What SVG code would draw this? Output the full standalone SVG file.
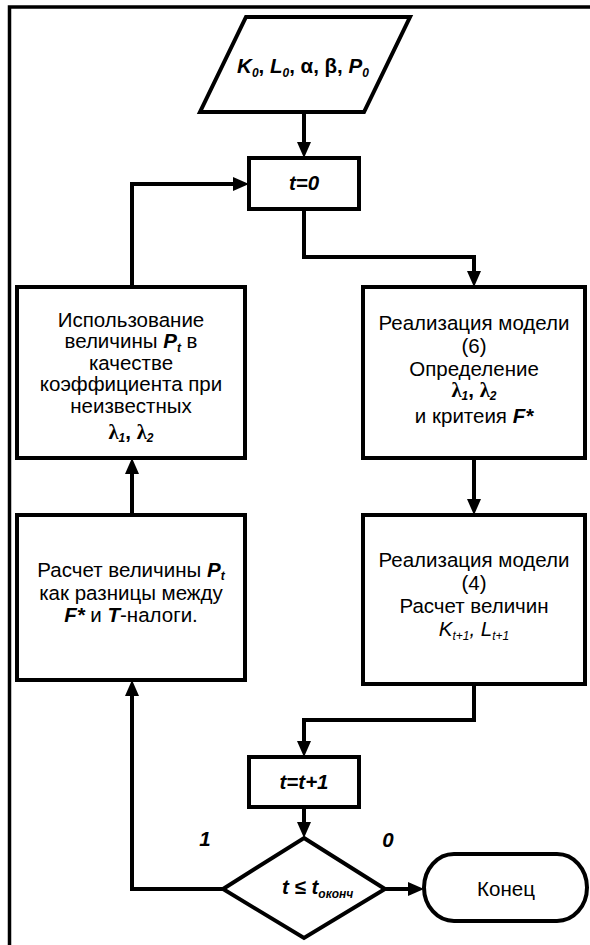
<svg xmlns="http://www.w3.org/2000/svg" width="590" height="945" viewBox="0 0 590 945">
<style>
.sh{fill:#fff;stroke:#000;stroke-width:4;stroke-linejoin:miter}
.cn{fill:none;stroke:#000;stroke-width:4}
text{font-family:"Liberation Sans",Arial,sans-serif;font-size:20.5px;fill:#000}
.c{text-anchor:middle}
.bi{font-weight:bold;font-style:italic}
.sub{font-size:12px;font-weight:bold;font-style:italic}
.lam{font-family:"Liberation Serif","Times New Roman",serif;font-weight:bold;font-style:normal}
</style>
<defs>
<marker id="ah" viewBox="0 0 16 14" refX="6" refY="7" markerWidth="16" markerHeight="14" markerUnits="userSpaceOnUse" orient="auto">
<path d="M0,0 L16,7 L0,14 z" fill="#000"/>
</marker>
</defs>
<rect width="590" height="945" fill="#fff"/>
<path d="M590,7 H9.5 V945" fill="none" stroke="#000" stroke-width="3.5"/>

<g id="connectors" class="cn">
<path d="M304,112 V148" marker-end="url(#ah)"/>
<path d="M304,209 V257 H474 V277" marker-end="url(#ah)"/>
<path d="M474,458 V505" marker-end="url(#ah)"/>
<path d="M474,684 V720 H304 V747" marker-end="url(#ah)"/>
<path d="M304,807 V828" marker-end="url(#ah)"/>
<path d="M385,889 H414" marker-end="url(#ah)"/>
<path d="M223,889 H132 V690" marker-end="url(#ah)"/>
<path d="M132,515 V468" marker-end="url(#ah)"/>
<path d="M132,287 V184 H239" marker-end="url(#ah)"/>
</g>

<g id="input">
<polygon class="sh" points="246,17 410,17 364,112 200,112"/>
<text x="303" y="73" class="c" font-weight="bold" font-size="20"><tspan font-style="italic">K</tspan><tspan class="sub" dy="4">0</tspan><tspan dy="-4">, </tspan><tspan font-style="italic">L</tspan><tspan class="sub" dy="4">0</tspan><tspan dy="-4">, α, β, </tspan><tspan font-style="italic">P</tspan><tspan class="sub" dy="4">0</tspan></text>
</g>

<g id="init">
<rect class="sh" x="249" y="158" width="110" height="51"/>
<text x="304" y="190" class="c bi" font-size="19.5">t=0</text>
</g>

<g id="model6">
<rect class="sh" x="363" y="287" width="222" height="171"/>
<text x="474" y="330" class="c">Реализация модели</text>
<text x="474" y="353" class="c">(6)</text>
<text x="474" y="376" class="c">Определение</text>
<text x="474" y="397" class="c" font-size="19"><tspan class="lam">λ</tspan><tspan class="sub" dy="3">1</tspan><tspan dy="-3" font-weight="bold">, </tspan><tspan class="lam">λ</tspan><tspan class="sub" dy="3">2</tspan></text>
<text x="474" y="423" class="c">и критеия <tspan class="bi">F*</tspan></text>
</g>

<g id="usePt">
<rect class="sh" x="17" y="287" width="228" height="171"/>
<text x="131" y="327" class="c">Использование</text>
<text x="131" y="348" class="c">величины <tspan class="bi">P</tspan><tspan class="sub" dy="4">t</tspan><tspan dy="-4"> в</tspan></text>
<text x="131" y="370" class="c">качестве</text>
<text x="131" y="391" class="c">коэффициента при</text>
<text x="131" y="413" class="c">неизвестных</text>
<text x="131" y="439" class="c" font-size="19"><tspan class="lam">λ</tspan><tspan class="sub" dy="3">1</tspan><tspan dy="-3" font-weight="bold">, </tspan><tspan class="lam">λ</tspan><tspan class="sub" dy="3">2</tspan></text>
</g>

<g id="model4">
<rect class="sh" x="363" y="515" width="222" height="169"/>
<text x="474" y="567" class="c">Реализация модели</text>
<text x="474" y="590" class="c">(4)</text>
<text x="474" y="613" class="c">Расчет величин</text>
<text x="474" y="636" class="c"><tspan font-style="italic">K</tspan><tspan font-size="12" font-style="italic" dy="4">t+1</tspan><tspan dy="-4" font-style="italic">, L</tspan><tspan font-size="12" font-style="italic" dy="4">t+1</tspan></text>
</g>

<g id="calcPt">
<rect class="sh" x="17" y="515" width="228" height="165"/>
<text x="131" y="577" class="c">Расчет величины <tspan class="bi">P</tspan><tspan class="sub" dy="3">t</tspan></text>
<text x="131" y="600" class="c">как разницы между</text>
<text x="131" y="622" class="c"><tspan class="bi">F*</tspan> и <tspan class="bi">T</tspan>-налоги.</text>
</g>

<g id="inc">
<rect class="sh" x="249" y="757" width="110" height="50"/>
<text x="304" y="789" class="c bi" font-size="19.5">t=t+1</text>
</g>

<g id="cond">
<polygon class="sh" points="304,838 385,889 304,938 223,889"/>
<text x="282" y="894" class="bi" font-size="20">t ≤ t<tspan class="sub" font-size="11" dy="4">оконч</tspan></text>
</g>

<g id="end">
<rect class="sh" x="424" y="854" width="163" height="67" rx="30" ry="33.5"/>
<text x="506" y="896" class="c">Конец</text>
</g>

<g id="labels">
<text x="205" y="846" class="c bi" font-size="19">1</text>
<text x="388" y="847" class="c bi" font-size="19">0</text>
</g>
</svg>
